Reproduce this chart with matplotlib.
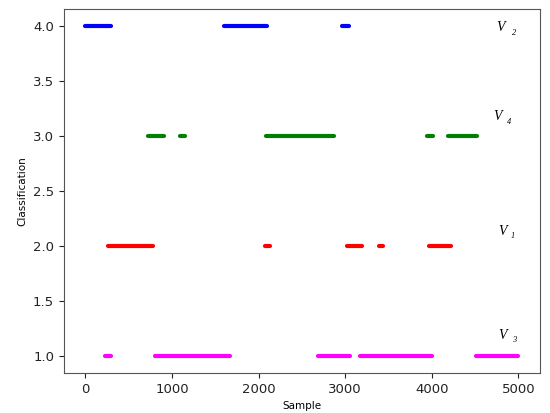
import matplotlib
matplotlib.use("Agg")
import matplotlib.pyplot as plt

# classification runs: (start sample, end sample)
v2_runs = [(0, 290), (1605, 2100), (2960, 3045)]        # class 4
v4_runs = [(725, 905), (1090, 1155), (2085, 2865), (3945, 4012), (4190, 4525)]  # class 3
v1_runs = [(262, 775), (2075, 2132), (3020, 3192), (3395, 3432), (3968, 4218)]  # class 2
v3_runs = [(230, 290), (805, 1672), (2682, 3050), (3170, 4000), (4510, 5000)]   # class 1

classes = [4, 3, 2, 1]
colors = ["#0000ff", "#008000", "#ff0000", "#ff00ff"]
runs = [v2_runs, v4_runs, v1_runs, v3_runs]

# label text, subscript, (x, y) for V and subscript
labels = ["2", "4", "1", "3"]
label_pos = [(4745, 3.99), (4712, 3.18), (4770, 2.13), (4770, 1.19)]
sub_pos = [(4925, 3.94), (4870, 3.13), (4910, 2.09), (4925, 1.15)]

fig = plt.figure(figsize=(5.5, 4.13), dpi=100)
ax = fig.add_axes([0.116, 0.097, 0.866, 0.88])

for cls, col, rr in zip(classes, colors, runs):
    for s, e in rr:
        ax.plot([s, e], [cls, cls], color=col, lw=3.0, solid_capstyle="round")

ax.set_xlim(-250, 5250)
ax.set_ylim(0.85, 4.15)
ax.set_xticks([0, 1000, 2000, 3000, 4000, 5000])
ax.set_yticks([1.0, 1.5, 2.0, 2.5, 3.0, 3.5, 4.0])
ax.tick_params(labelsize=9.5, colors="#222222")
for sp in ax.spines.values():
    sp.set_color("#555555")

ax.set_xlabel("Sample", fontsize=7.5)
ax.set_ylabel("Classification", fontsize=7.5)

for txt, (x, y), (sx, sy) in zip(labels, label_pos, sub_pos):
    ax.text(x, y, "V", family="Liberation Serif", style="italic",
            fontsize=10, va="center", ha="left")
    ax.text(sx, sy, txt, family="Liberation Serif", style="italic",
            fontsize=6, va="center", ha="left")

fig.savefig("out.png", dpi=100)
